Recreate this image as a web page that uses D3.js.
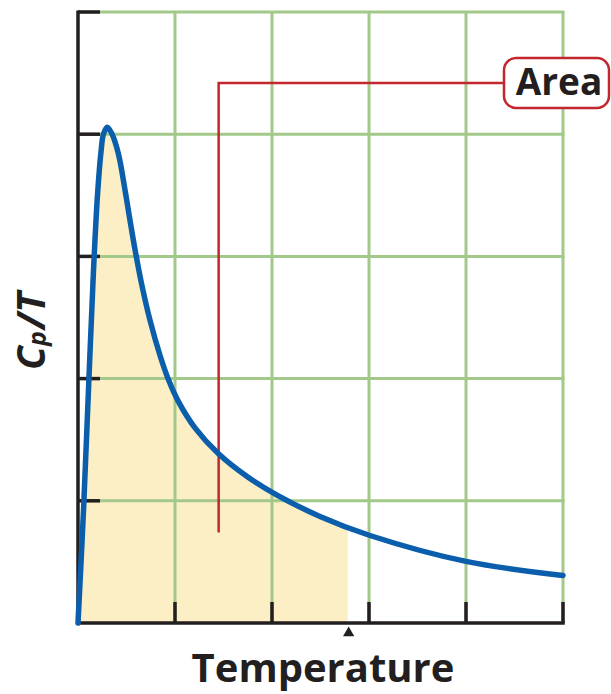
<!DOCTYPE html>
<html><head><meta charset="utf-8">
<script src="https://cdn.jsdelivr.net/npm/d3@7"></script>
<style>html,body{margin:0;padding:0;background:#fff;overflow:hidden}</style>
</head><body>
<script>
// ---- data ----
const tempValues = [0, 0.057, 0.108, 0.160, 0.201, 0.237, 0.263, 0.302, 0.347, 0.415, 0.485, 0.536, 0.588, 0.657, 0.742, 0.845, 0.931, 1.034, 1.206, 1.446, 1.739, 2.047, 2.495, 3.01, 4.0, 5.0];
const cpOverT   = [0, 0.925, 1.907, 2.889, 3.502, 3.854, 4.002, 4.057, 4.007, 3.844, 3.542, 3.296, 3.055, 2.770, 2.478, 2.191, 1.994, 1.814, 1.597, 1.387, 1.201, 1.049, 0.872, 0.716, 0.504, 0.389];
const gridTicks = [1, 2, 3, 4, 5];
const shadedUpTo = 2.78;
const annotPoint = [1.45, 0.74]; // bottom of the red leader line (data units)
const annotTopY = 4.42;
const xLabel = "Temperature";
const yLabelMain = "C", yLabelSub = "p", yLabelRest = "/T";
const areaLabel = "Area";

// ---- layout ----
const W = 611, H = 694;
const L = 78, R = 563, T = 12, B = 623;
const svg = d3.select("body").append("svg").attr("width", W).attr("height", H);

const x = d3.scaleLinear().domain([0, 5]).range([L, R]);
const y = d3.scaleLinear().domain([0, 5]).range([B, T]);

const green = "#a2c98a", black = "#231f20", blue = "#0b5eab", red = "#c1272d", fillC = "#fcefc6";
const data = tempValues.map((t, i) => ({ t, v: cpOverT[i] }));
const curve = d3.curveCatmullRom.alpha(0.5);

// shaded area
svg.append("clipPath").attr("id", "shade").append("rect")
  .attr("x", x(0)).attr("y", 0).attr("width", x(shadedUpTo) - x(0)).attr("height", B);
svg.append("path").datum(data)
  .attr("clip-path", "url(#shade)")
  .attr("fill", fillC)
  .attr("d", d3.area().x(d => x(d.t)).y0(y(0)).y1(d => y(d.v)).curve(curve));

// green grid
svg.append("g").selectAll("line").data(gridTicks).join("line")
  .attr("x1", d => x(d)).attr("x2", d => x(d)).attr("y1", y(5)).attr("y2", y(0))
  .attr("stroke", green).attr("stroke-width", 3);
svg.append("g").selectAll("line").data(gridTicks).join("line")
  .attr("y1", d => y(d)).attr("y2", d => y(d)).attr("x1", x(0)).attr("x2", x(5) + 1.5)
  .attr("stroke", green).attr("stroke-width", 3);

// black ticks
svg.append("g").selectAll("line").data(gridTicks).join("line")
  .attr("x1", d => x(d)).attr("x2", d => x(d)).attr("y1", y(0) - 21).attr("y2", y(0))
  .attr("stroke", black).attr("stroke-width", 3.5);
svg.append("g").selectAll("line").data(gridTicks).join("line")
  .attr("y1", d => y(d)).attr("y2", d => y(d)).attr("x1", x(0)).attr("x2", x(0) + 22)
  .attr("stroke", black).attr("stroke-width", 3.5);

// axes
svg.append("path").attr("d", `M${x(0)},${y(5) - 1.5}V${y(0)}H${x(5) + 1.75}`)
  .attr("fill", "none").attr("stroke", black).attr("stroke-width", 3.5);

// red leader
svg.append("path")
  .attr("d", `M${x(annotPoint[0])},${y(annotPoint[1])}V${y(annotTopY)}H505`)
  .attr("fill", "none").attr("stroke", red).attr("stroke-width", 2.5);

// curve
svg.append("path").datum(data)
  .attr("fill", "none").attr("stroke", blue).attr("stroke-width", 5.5)
  .attr("stroke-linejoin", "round").attr("stroke-linecap", "round")
  .attr("d", d3.line().x(d => x(d.t)).y(d => y(d.v)).curve(curve));

// label box
svg.append("rect").attr("x", 504).attr("y", 58).attr("width", 105).attr("height", 50)
  .attr("rx", 12).attr("fill", "#fff").attr("stroke", red).attr("stroke-width", 2.5);
svg.append("text").attr("x", 559).attr("y", 95).attr("text-anchor", "middle")
  .attr("font-family", "Open Sans").attr("font-weight", 700).attr("font-size", 37)
  .attr("fill", black).text(areaLabel);

// triangle marker
svg.append("path")
  .attr("d", d3.symbol().type(d3.symbolTriangle).size(55))
  .attr("transform", `translate(${x(shadedUpTo) + 1},${B + 10})`).attr("fill", black);

// x label
svg.append("text").attr("x", 323).attr("y", 682).attr("text-anchor", "middle")
  .attr("font-family", "Open Sans").attr("font-weight", 700).attr("font-size", 40)
  .attr("fill", black).text(xLabel);

// y label
const yl = svg.append("text").attr("transform", "translate(45,331) rotate(-90)")
  .attr("text-anchor", "middle")
  .attr("font-family", "Open Sans").attr("font-weight", 700).attr("font-style", "italic")
  .attr("font-size", 39).attr("fill", black);
yl.append("tspan").text(yLabelMain);
yl.append("tspan").attr("font-size", 25).attr("dy", 1).text(yLabelSub);
yl.append("tspan").attr("dy", -1).attr("dx", 2).text(yLabelRest);
</script>
</body></html>
